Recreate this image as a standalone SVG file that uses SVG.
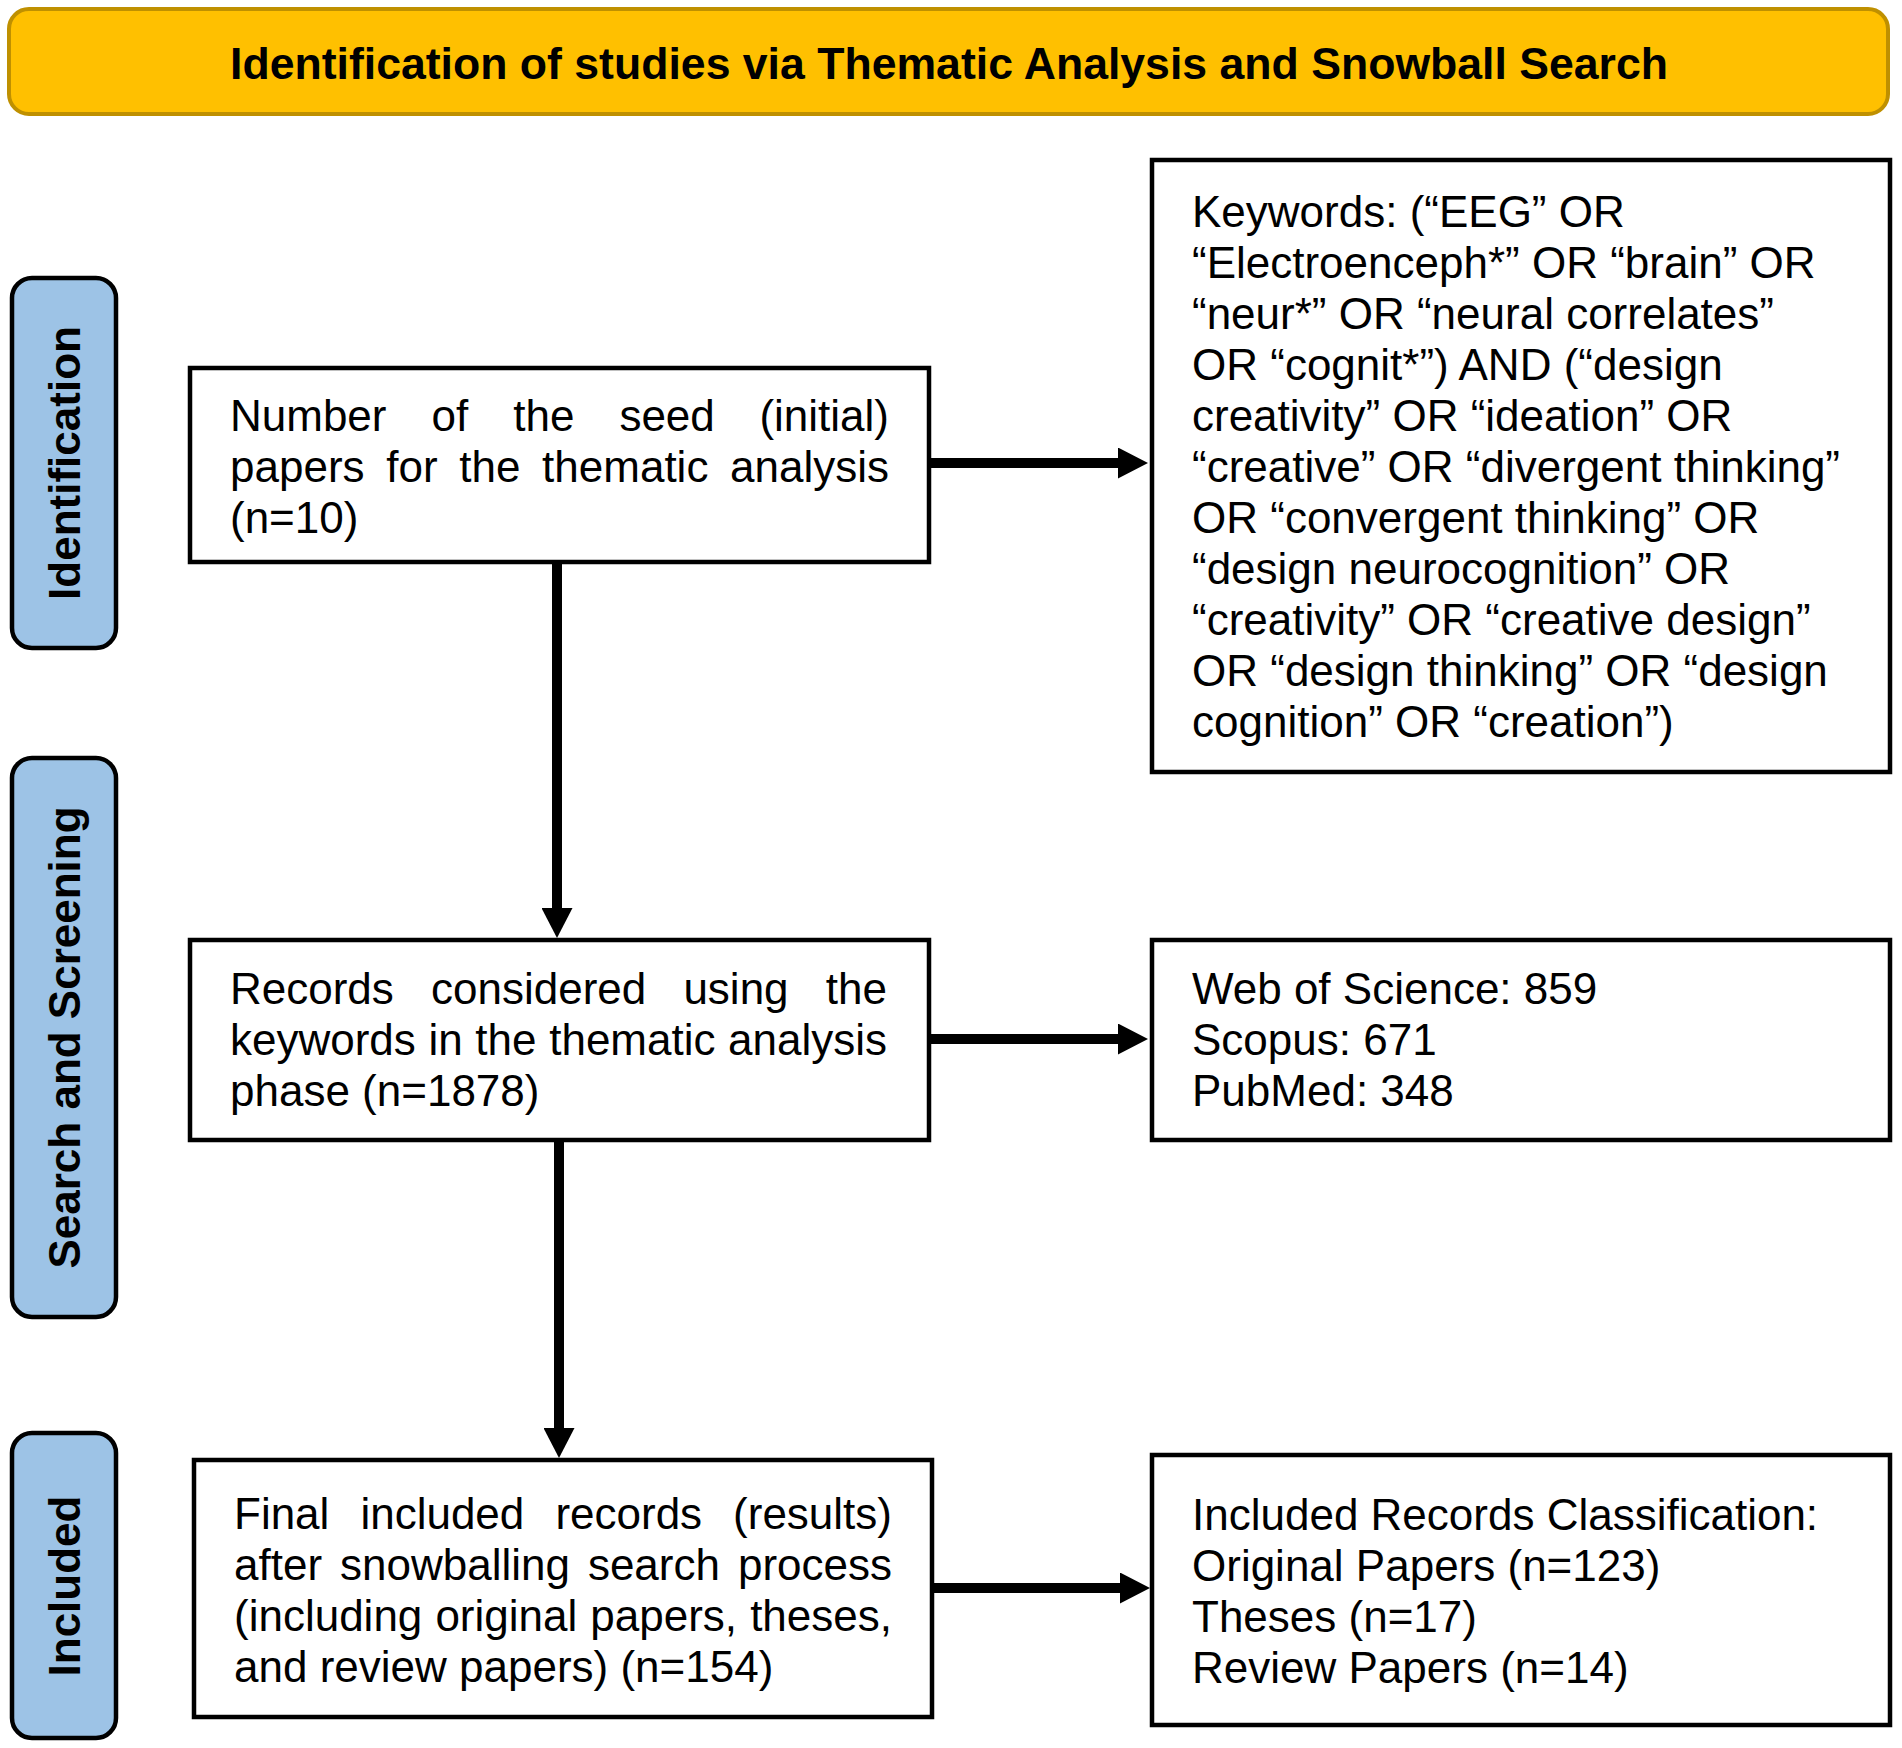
<svg xmlns="http://www.w3.org/2000/svg" width="1902" height="1748" viewBox="0 0 1902 1748">
<style>
.box{fill:#fff;stroke:#000;stroke-width:4.5}
.pill{fill:#9DC3E6;stroke:#000;stroke-width:4.5}
.t{font-family:"Liberation Sans",Arial,sans-serif;font-size:44px;fill:#000}
.e{text-anchor:end}
.side{font-family:"Liberation Sans",Arial,sans-serif;font-size:44px;font-weight:bold;fill:#000;text-anchor:middle}
.title{font-family:"Liberation Sans",Arial,sans-serif;font-size:44.5px;font-weight:bold;fill:#000;text-anchor:middle}
.conn{stroke:#000;stroke-width:10;fill:none}
</style>
<defs>
<marker id="ah" markerUnits="userSpaceOnUse" markerWidth="30" markerHeight="31" viewBox="0 0 30 31" refX="0" refY="15.5" orient="auto">
<path d="M0,0 L30,15.5 L0,31 Z" fill="#000"/>
</marker>
</defs>
<rect width="1902" height="1748" fill="#fff"/>

<g id="header">
<rect x="9" y="9" width="1879" height="105" rx="20" ry="20" fill="#FFC000" stroke="#BF9000" stroke-width="4"/>
<text class="title" x="949" y="79" textLength="1438" lengthAdjust="spacingAndGlyphs">Identification of studies via Thematic Analysis and Snowball Search</text>
</g>

<g id="phase-identification">
<rect class="pill" x="12" y="278" width="104" height="370" rx="20" ry="20"/>
<text class="side" transform="translate(80,463) rotate(-90)">Identification</text>
</g>
<g id="phase-search">
<rect class="pill" x="12" y="758" width="104" height="559" rx="20" ry="20"/>
<text class="side" transform="translate(80,1037.5) rotate(-90)">Search and Screening</text>
</g>
<g id="phase-included">
<rect class="pill" x="12" y="1433" width="104" height="305" rx="20" ry="20"/>
<text class="side" transform="translate(80,1586) rotate(-90)">Included</text>
</g>

<g id="seed">
<rect class="box" x="190" y="368" width="739" height="194"/>
<text class="t" y="431"><tspan x="230">Number</tspan><tspan x="431.5">of</tspan><tspan x="513.2">the</tspan><tspan x="619.4">seed</tspan></text>
<text class="t e" x="889" y="431">(initial)</text>
<text class="t" y="482"><tspan x="230">papers</tspan><tspan x="386.2">for</tspan><tspan x="459.2">the</tspan><tspan x="542.1">thematic</tspan></text>
<text class="t e" x="889" y="482">analysis</text>
<text class="t" x="230" y="533">(n=10)</text>
</g>

<g id="keywords">
<rect class="box" x="1152" y="160" width="738" height="612"/>
<text class="t" x="1192" y="227">Keywords: (“EEG” OR</text>
<text class="t" x="1192" y="278">“Electroenceph*” OR “brain” OR</text>
<text class="t" x="1192" y="329">“neur*” OR “neural correlates”</text>
<text class="t" x="1192" y="380">OR “cognit*”) AND (“design</text>
<text class="t" x="1192" y="431">creativity” OR “ideation” OR</text>
<text class="t" x="1192" y="482">“creative” OR “divergent thinking”</text>
<text class="t" x="1192" y="533">OR “convergent thinking” OR</text>
<text class="t" x="1192" y="584">“design neurocognition” OR</text>
<text class="t" x="1192" y="635">“creativity” OR “creative design”</text>
<text class="t" x="1192" y="686">OR “design thinking” OR “design</text>
<text class="t" x="1192" y="737">cognition” OR “creation”)</text>
</g>

<g id="records">
<rect class="box" x="190" y="940" width="739" height="200"/>
<text class="t" y="1004"><tspan x="230">Records</tspan><tspan x="431">considered</tspan><tspan x="683.4">using</tspan></text>
<text class="t e" x="887" y="1004">the</text>
<text class="t" y="1055"><tspan x="230">keywords</tspan><tspan x="428.5">in</tspan><tspan x="475.3">the</tspan><tspan x="549.2">thematic</tspan></text>
<text class="t e" x="887" y="1055">analysis</text>
<text class="t" x="230" y="1106">phase (n=1878)</text>
</g>

<g id="databases">
<rect class="box" x="1152" y="940" width="738" height="200"/>
<text class="t" x="1192" y="1004">Web of Science: 859</text>
<text class="t" x="1192" y="1055">Scopus: 671</text>
<text class="t" x="1192" y="1106">PubMed: 348</text>
</g>

<g id="final">
<rect class="box" x="194" y="1460" width="738" height="257"/>
<text class="t" y="1529"><tspan x="234">Final</tspan><tspan x="360.4">included</tspan><tspan x="555.4">records</tspan></text>
<text class="t e" x="892" y="1529">(results)</text>
<text class="t" y="1580"><tspan x="234">after</tspan><tspan x="340">snowballing</tspan><tspan x="587.9">search</tspan></text>
<text class="t e" x="892" y="1580">process</text>
<text class="t" y="1631"><tspan x="234">(including</tspan><tspan x="435.4">original</tspan><tspan x="590.3">papers,</tspan></text>
<text class="t e" x="892" y="1631">theses,</text>
<text class="t" x="234" y="1682">and review papers) (n=154)</text>
</g>

<g id="classification">
<rect class="box" x="1152" y="1455" width="738" height="270"/>
<text class="t" x="1192" y="1530">Included Records Classification:</text>
<text class="t" x="1192" y="1581">Original Papers (n=123)</text>
<text class="t" x="1192" y="1632">Theses (n=17)</text>
<text class="t" x="1192" y="1683">Review Papers (n=14)</text>
</g>

<g id="connectors">
<line class="conn" x1="931" y1="463" x2="1118" y2="463" marker-end="url(#ah)"/>
<line class="conn" x1="931" y1="1039" x2="1118" y2="1039" marker-end="url(#ah)"/>
<line class="conn" x1="934" y1="1588" x2="1120" y2="1588" marker-end="url(#ah)"/>
<line class="conn" x1="557" y1="564" x2="557" y2="908" marker-end="url(#ah)"/>
<line class="conn" x1="559" y1="1142" x2="559" y2="1428" marker-end="url(#ah)"/>
</g>
</svg>
